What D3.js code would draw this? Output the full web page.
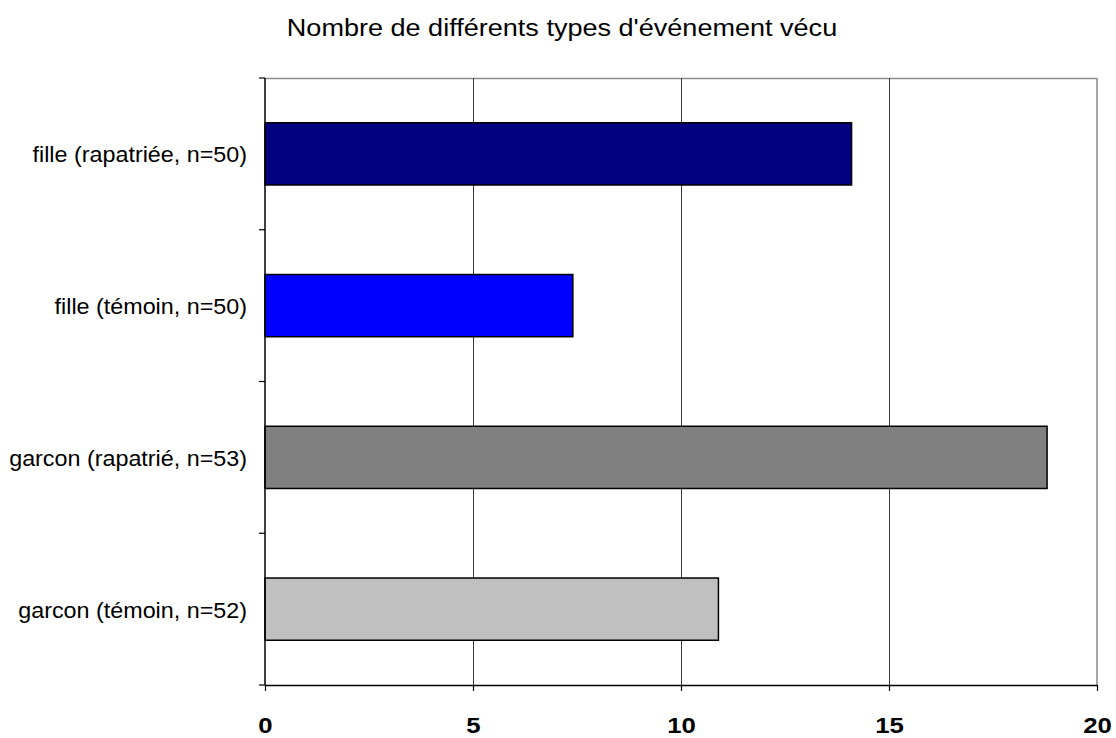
<!DOCTYPE html>
<html>
<head>
<meta charset="utf-8">
<script src="https://cdn.jsdelivr.net/npm/d3@7"></script>
<style>
  html, body { margin: 0; padding: 0; background: #fff; }
  svg { display: block; font-family: "Liberation Sans", Arial, sans-serif; }
</style>
</head>
<body>
<svg id="chart" width="1116" height="738"></svg>
<script>
// Categories, top to bottom
const categories = [
  "fille (rapatriée, n=50)",
  "fille (témoin, n=50)",
  "garcon (rapatrié, n=53)",
  "garcon (témoin, n=52)"
];
// Number of different event types experienced
const values = [14.1, 7.4, 18.8, 10.9];
const barColors = ["#000080", "#0000ff", "#808080", "#c0c0c0"];
const xTicks = [0, 5, 10, 15, 20];
const title = "Nombre de différents types d'événement vécu";

const svg = d3.select("#chart");
const margin = { left: 265, right: 1097, top: 78, bottom: 685 };
const stretch = 1.08; // slightly wide text rendering

const x = d3.scaleLinear().domain([0, 20]).range([margin.left, margin.right]);
const y = d3.scaleBand().domain(categories)
  .range([margin.top, margin.bottom])
  .paddingInner(0.59).paddingOuter(0.295);

// Title
svg.append("g")
  .attr("transform", `translate(562,36) scale(1.1,1)`)
  .append("text")
  .attr("text-anchor", "middle")
  .attr("font-size", 24.6)
  .attr("fill", "#000")
  .text(title);

// Plot frame (top and right edges)
svg.append("line")
  .attr("x1", margin.left).attr("x2", margin.right)
  .attr("y1", margin.top + 0.5).attr("y2", margin.top + 0.5)
  .attr("stroke", "#8a8a8a").attr("stroke-width", 1.5);
svg.append("line")
  .attr("x1", margin.right).attr("x2", margin.right)
  .attr("y1", margin.top).attr("y2", margin.bottom)
  .attr("stroke", "#8a8a8a").attr("stroke-width", 1.5);

// Vertical gridlines
svg.append("g").selectAll("line")
  .data(xTicks.filter(d => d > 0 && d < 20))
  .join("line")
  .attr("x1", d => x(d) + 0.5).attr("x2", d => x(d) + 0.5)
  .attr("y1", margin.top).attr("y2", margin.bottom)
  .attr("stroke", "#3a3a3a").attr("stroke-width", 1);

// Bars
svg.append("g").selectAll("rect")
  .data(categories)
  .join("rect")
  .attr("x", x(0))
  .attr("y", d => y(d))
  .attr("width", (d, i) => x(values[i]) - x(0))
  .attr("height", y.bandwidth())
  .attr("fill", (d, i) => barColors[i])
  .attr("stroke", "#000")
  .attr("stroke-width", 1.5);

// X axis
const xAxis = svg.append("g")
  .attr("transform", `translate(0,${margin.bottom})`)
  .call(d3.axisBottom(x).tickValues(xTicks).tickSize(6).tickPadding(14).tickFormat(d3.format("d")));
xAxis.select(".domain").attr("stroke", "#000").attr("stroke-width", 1.5)
  .attr("d", `M${margin.left},0.5H${margin.right}`);
xAxis.selectAll(".tick line").attr("stroke", "#000").attr("stroke-width", 1.2);
xAxis.selectAll(".tick text")
  .attr("y", 48).attr("dy", null)
  .attr("transform", `scale(1.12,1)`)
  .attr("font-family", "'Liberation Sans', Arial, sans-serif")
  .attr("font-size", 23).attr("font-weight", "bold").attr("fill", "#000");

// Y axis: ticks on band boundaries, labels centred on bands
const yAxis = svg.append("g").attr("transform", `translate(${margin.left},0)`);
yAxis.append("line")
  .attr("x1", 0).attr("x2", 0)
  .attr("y1", margin.top).attr("y2", margin.bottom)
  .attr("stroke", "#000").attr("stroke-width", 1.5);
const step = y.step();
const boundaries = d3.range(categories.length + 1).map(i => margin.top + i * step);
yAxis.selectAll(".bt").data(boundaries).join("line")
  .attr("class", "bt")
  .attr("x1", -6).attr("x2", 0)
  .attr("y1", d => d).attr("y2", d => d)
  .attr("stroke", "#000").attr("stroke-width", 1.2);
yAxis.selectAll(".lab").data(categories).join("g")
  .attr("class", "lab")
  .attr("transform", d => `translate(-18,${y(d) + y.bandwidth() / 2 + 8.5}) scale(${stretch},1)`)
  .append("text")
  .attr("text-anchor", "end")
  .attr("font-size", 21.6)
  .attr("fill", "#000")
  .text(d => d);
</script>
</body>
</html>
